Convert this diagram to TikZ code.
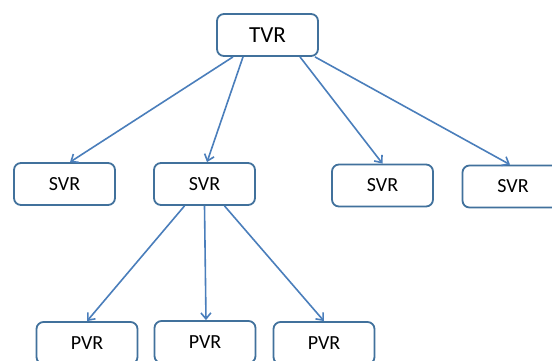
\documentclass[tikz,border=0pt]{standalone}
\usepackage{fontspec}
\setmainfont{Carlito}
\usetikzlibrary{arrows.meta}
\definecolor{boxline}{HTML}{41719C}
\definecolor{arrowline}{HTML}{4A7EBB}
\begin{document}
\begin{tikzpicture}[x=1pt,y=-1pt,
  vbox/.style={draw=boxline,line width=1.8pt,rounded corners=7pt,fill=white,
    minimum width=101pt,minimum height=42pt,inner sep=0pt,font=\fontsize{20}{23}\selectfont},
  conn/.style={draw=arrowline,line width=1.6pt,-{Straight Barb[length=6pt,width=10pt,line width=1.6pt]}}]
\useasboundingbox (0,0) rectangle (552,360);
\clip (0,0) rectangle (552,360);
\node[vbox,font=\fontsize{23}{26}\selectfont] (tvr) at (267.5,35) {TVR};
\node[vbox] (s1) at (64.5,184) {SVR};
\node[vbox] (s2) at (204.5,184) {SVR};
\node[vbox] (s3) at (382.5,185.5) {SVR};
\node[vbox] (s4) at (513,186.5) {SVR};
\node[vbox] (p1) at (87,343) {PVR};
\node[vbox] (p2) at (205,342) {PVR};
\node[vbox] (p3) at (324,343) {PVR};
\draw[conn] ([xshift=-34.5pt]tvr.south) -- ([xshift=5.5pt]s1.north);
\draw[conn] ([xshift=-24.5pt]tvr.south) -- ([xshift=2.5pt]s2.north);
\draw[conn] ([xshift=32.5pt]tvr.south) -- (s3.north);
\draw[conn] ([xshift=47.5pt]tvr.south) -- ([xshift=-3pt]s4.north);
\draw[conn] ([xshift=-20pt]s2.south) -- (p1.north);
\draw[conn] (s2.south) -- ([xshift=1pt]p2.north);
\draw[conn] ([xshift=20pt]s2.south) -- (p3.north);
\end{tikzpicture}
\end{document}
